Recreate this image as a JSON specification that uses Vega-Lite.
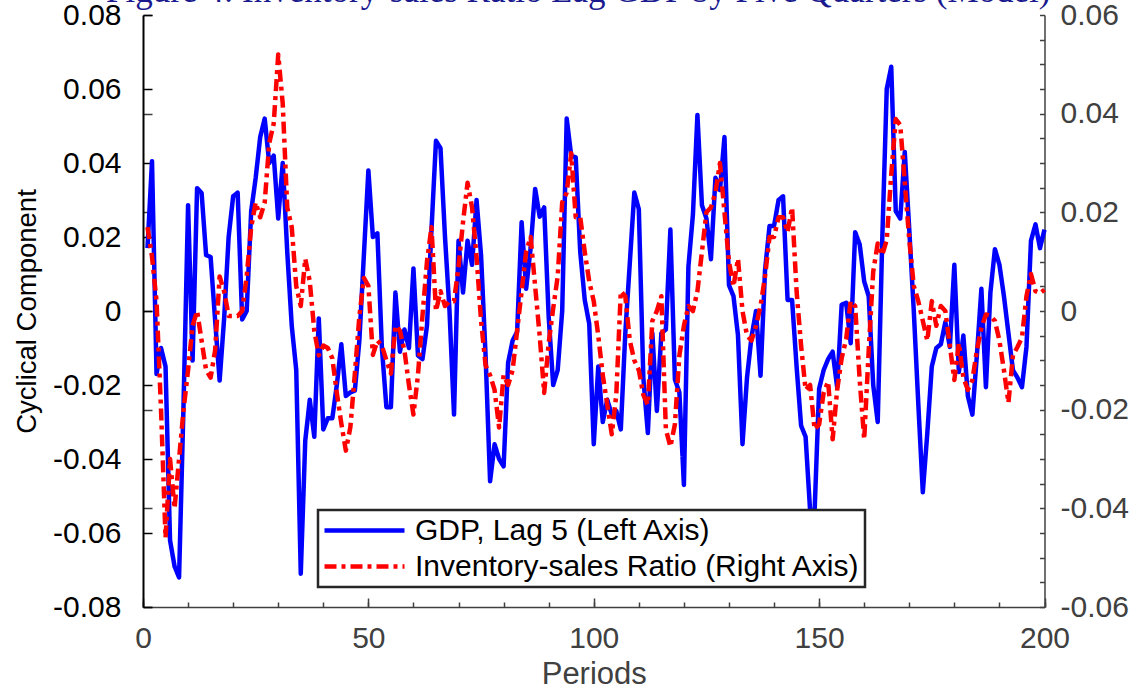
{
"$schema": "https://vega.github.io/schema/vega-lite/v6.json",
"width": 901.5,
"height": 592,
"autosize": {"type": "none"},
"padding": {"left": 143, "top": 15, "right": 93.5, "bottom": 86},
"background": "white",
"config": {"font": "Liberation Sans", "view": {"stroke": null}, "axis": {"grid": false, "labelFont": "Liberation Sans", "titleFont": "Liberation Sans", "titleFontWeight": "normal", "labelOverlap": false, "labelFlush": false}},
"title": {"text": "Figure 4: Inventory-sales Ratio Lag GDP by Five Quarters (Model)", "anchor": "start", "frame": "group", "dx": -37, "offset": -37, "baseline": "alphabetic", "font": "Liberation Serif", "fontSize": 35, "fontWeight": "normal", "color": "#1a1a8e"},
"data": {"values": [
{"t":1,"gdp":0.017,"inv":0.017},{"t":2,"gdp":0.0405,"inv":0.011},{"t":3,"gdp":-0.017,"inv":0.002},{"t":4,"gdp":-0.010,"inv":-0.020},{"t":5,"gdp":-0.015,"inv":-0.046},
{"t":6,"gdp":-0.062,"inv":-0.030},{"t":7,"gdp":-0.069,"inv":-0.040},{"t":8,"gdp":-0.072,"inv":-0.030},{"t":9,"gdp":-0.025,"inv":-0.020},{"t":10,"gdp":0.0286,"inv":-0.012},
{"t":11,"gdp":-0.0134,"inv":-0.003},{"t":12,"gdp":0.0332,"inv":0.000},{"t":13,"gdp":0.0319,"inv":-0.006},{"t":14,"gdp":0.0151,"inv":-0.012},{"t":15,"gdp":0.0146,"inv":-0.0135},
{"t":16,"gdp":-0.0025,"inv":-0.008},{"t":17,"gdp":-0.0188,"inv":0.007},{"t":18,"gdp":-0.002,"inv":0.004},{"t":19,"gdp":0.020,"inv":-0.001},{"t":20,"gdp":0.031,"inv":-0.001},
{"t":21,"gdp":0.032,"inv":-0.001},{"t":22,"gdp":-0.0023,"inv":0.000},{"t":23,"gdp":0.000,"inv":0.007},{"t":24,"gdp":0.027,"inv":0.017},{"t":25,"gdp":0.036,"inv":0.022},
{"t":26,"gdp":0.047,"inv":0.019},{"t":27,"gdp":0.052,"inv":0.022},{"t":28,"gdp":0.040,"inv":0.034},{"t":29,"gdp":0.042,"inv":0.038},{"t":30,"gdp":0.025,"inv":0.052},
{"t":31,"gdp":0.040,"inv":0.042},{"t":32,"gdp":0.016,"inv":0.021},{"t":33,"gdp":-0.004,"inv":0.017},{"t":34,"gdp":-0.016,"inv":0.005},{"t":35,"gdp":-0.071,"inv":0.001},
{"t":36,"gdp":-0.035,"inv":0.0106},{"t":37,"gdp":-0.024,"inv":0.006},{"t":38,"gdp":-0.034,"inv":-0.004},{"t":39,"gdp":-0.002,"inv":-0.009},{"t":40,"gdp":-0.032,"inv":-0.007},
{"t":41,"gdp":-0.029,"inv":-0.0075},{"t":42,"gdp":-0.029,"inv":-0.0096},{"t":43,"gdp":-0.020,"inv":-0.0166},{"t":44,"gdp":-0.009,"inv":-0.0228},{"t":45,"gdp":-0.023,"inv":-0.0283},
{"t":46,"gdp":-0.022,"inv":-0.0236},{"t":47,"gdp":-0.0215,"inv":-0.0127},{"t":48,"gdp":-0.008,"inv":-0.0011},{"t":49,"gdp":0.015,"inv":0.0067},{"t":50,"gdp":0.038,"inv":0.0051},
{"t":51,"gdp":0.020,"inv":-0.0089},{"t":52,"gdp":0.021,"inv":-0.006},{"t":53,"gdp":-0.010,"inv":-0.007},{"t":54,"gdp":-0.026,"inv":-0.010},{"t":55,"gdp":-0.026,"inv":-0.0127},
{"t":56,"gdp":0.005,"inv":-0.003},{"t":57,"gdp":-0.011,"inv":-0.004},{"t":58,"gdp":-0.005,"inv":-0.008},{"t":59,"gdp":-0.010,"inv":-0.015},{"t":60,"gdp":0.0115,"inv":-0.021},
{"t":61,"gdp":-0.012,"inv":-0.013},{"t":62,"gdp":-0.013,"inv":-0.001},{"t":63,"gdp":-0.004,"inv":0.010},{"t":64,"gdp":0.022,"inv":0.017},{"t":65,"gdp":0.046,"inv":0.000},
{"t":66,"gdp":0.044,"inv":0.004},{"t":67,"gdp":0.020,"inv":0.001},{"t":68,"gdp":0.000,"inv":0.002},{"t":69,"gdp":-0.028,"inv":0.002},{"t":70,"gdp":0.019,"inv":0.009},
{"t":71,"gdp":0.005,"inv":0.018},{"t":72,"gdp":0.019,"inv":0.026},{"t":73,"gdp":0.0125,"inv":0.021},{"t":74,"gdp":0.030,"inv":0.011},{"t":75,"gdp":0.015,"inv":-0.002},
{"t":76,"gdp":-0.012,"inv":-0.011},{"t":77,"gdp":-0.046,"inv":-0.013},{"t":78,"gdp":-0.036,"inv":-0.016},{"t":79,"gdp":-0.040,"inv":-0.0236},{"t":80,"gdp":-0.042,"inv":-0.013},
{"t":81,"gdp":-0.014,"inv":-0.015},{"t":82,"gdp":-0.008,"inv":-0.012},{"t":83,"gdp":-0.0056,"inv":-0.004},{"t":84,"gdp":0.024,"inv":0.004},{"t":85,"gdp":0.006,"inv":0.012},
{"t":86,"gdp":0.017,"inv":0.015},{"t":87,"gdp":0.033,"inv":0.005},{"t":88,"gdp":0.0255,"inv":-0.005},{"t":89,"gdp":0.028,"inv":-0.0166},{"t":90,"gdp":-0.0015,"inv":-0.0065},
{"t":91,"gdp":-0.020,"inv":0.0005},{"t":92,"gdp":-0.016,"inv":0.007},{"t":93,"gdp":0.000,"inv":0.022},{"t":94,"gdp":0.052,"inv":0.024},{"t":95,"gdp":0.042,"inv":0.032},
{"t":96,"gdp":0.0415,"inv":0.019},{"t":97,"gdp":0.016,"inv":0.019},{"t":98,"gdp":0.003,"inv":0.012},{"t":99,"gdp":-0.0035,"inv":0.006},{"t":100,"gdp":-0.036,"inv":0.002},
{"t":101,"gdp":-0.015,"inv":-0.005},{"t":102,"gdp":-0.030,"inv":-0.013},{"t":103,"gdp":-0.024,"inv":-0.019},{"t":104,"gdp":-0.028,"inv":-0.025},{"t":105,"gdp":-0.027,"inv":-0.017},
{"t":106,"gdp":-0.032,"inv":0.004},{"t":107,"gdp":-0.006,"inv":0.003},{"t":108,"gdp":0.013,"inv":-0.006},{"t":109,"gdp":0.032,"inv":-0.010},{"t":110,"gdp":0.0275,"inv":-0.012},
{"t":111,"gdp":-0.018,"inv":-0.017},{"t":112,"gdp":-0.033,"inv":-0.019},{"t":113,"gdp":-0.006,"inv":-0.002},{"t":114,"gdp":-0.027,"inv":0.000},{"t":115,"gdp":-0.006,"inv":0.003},
{"t":116,"gdp":-0.005,"inv":-0.024},{"t":117,"gdp":0.022,"inv":-0.0275},{"t":118,"gdp":-0.0185,"inv":-0.023},{"t":119,"gdp":-0.022,"inv":-0.009},{"t":120,"gdp":-0.047,"inv":-0.003},
{"t":121,"gdp":0.012,"inv":0.001},{"t":122,"gdp":0.026,"inv":0.000},{"t":123,"gdp":0.053,"inv":0.004},{"t":124,"gdp":0.0286,"inv":0.012},{"t":125,"gdp":0.025,"inv":0.020},
{"t":126,"gdp":0.014,"inv":0.021},{"t":127,"gdp":0.036,"inv":0.024},{"t":128,"gdp":0.0327,"inv":0.030},{"t":129,"gdp":0.047,"inv":0.020},{"t":130,"gdp":0.007,"inv":0.010},
{"t":131,"gdp":0.004,"inv":0.005},{"t":132,"gdp":-0.0066,"inv":0.0106},{"t":133,"gdp":-0.036,"inv":0.000},{"t":134,"gdp":-0.018,"inv":-0.005},{"t":135,"gdp":-0.007,"inv":-0.006},
{"t":136,"gdp":0.000,"inv":-0.003},{"t":137,"gdp":-0.0175,"inv":0.001},{"t":138,"gdp":0.011,"inv":0.007},{"t":139,"gdp":0.023,"inv":0.015},{"t":140,"gdp":0.023,"inv":0.015},
{"t":141,"gdp":0.030,"inv":0.019},{"t":142,"gdp":0.031,"inv":0.019},{"t":143,"gdp":0.003,"inv":0.016},{"t":144,"gdp":0.003,"inv":0.021},{"t":145,"gdp":-0.015,"inv":0.004},
{"t":146,"gdp":-0.031,"inv":-0.007},{"t":147,"gdp":-0.034,"inv":-0.016},{"t":148,"gdp":-0.054,"inv":-0.015},{"t":149,"gdp":-0.054,"inv":-0.024},{"t":150,"gdp":-0.021,"inv":-0.023},
{"t":151,"gdp":-0.016,"inv":-0.0166},{"t":152,"gdp":-0.013,"inv":-0.0143},{"t":153,"gdp":-0.011,"inv":-0.026},{"t":154,"gdp":-0.0206,"inv":-0.016},{"t":155,"gdp":0.0017,"inv":-0.0096},
{"t":156,"gdp":0.0022,"inv":-0.0057},{"t":157,"gdp":-0.0087,"inv":0.002},{"t":158,"gdp":0.0213,"inv":0.001},{"t":159,"gdp":0.018,"inv":-0.014},{"t":160,"gdp":0.008,"inv":-0.026},
{"t":161,"gdp":0.004,"inv":-0.008},{"t":162,"gdp":-0.020,"inv":0.008},{"t":163,"gdp":-0.030,"inv":0.0137},{"t":164,"gdp":0.019,"inv":0.0113},{"t":165,"gdp":0.060,"inv":0.0144},
{"t":166,"gdp":0.066,"inv":0.0277},{"t":167,"gdp":0.027,"inv":0.0389},{"t":168,"gdp":0.025,"inv":0.0377},{"t":169,"gdp":0.043,"inv":0.0261},{"t":170,"gdp":0.022,"inv":0.0144},
{"t":171,"gdp":0.000,"inv":0.0051},{"t":172,"gdp":-0.025,"inv":0.002},{"t":173,"gdp":-0.049,"inv":-0.002},{"t":174,"gdp":-0.033,"inv":-0.006},{"t":175,"gdp":-0.015,"inv":0.002},
{"t":176,"gdp":-0.010,"inv":-0.003},{"t":177,"gdp":-0.009,"inv":0.001},{"t":178,"gdp":-0.003,"inv":0.000},{"t":179,"gdp":-0.0097,"inv":-0.007},{"t":180,"gdp":0.0125,"inv":-0.014},
{"t":181,"gdp":-0.0165,"inv":-0.0065},{"t":182,"gdp":-0.0066,"inv":-0.0135},{"t":183,"gdp":-0.023,"inv":-0.016},{"t":184,"gdp":-0.028,"inv":-0.014},{"t":185,"gdp":-0.012,"inv":-0.008},
{"t":186,"gdp":0.006,"inv":-0.0034},{"t":187,"gdp":-0.0206,"inv":-0.0007},{"t":188,"gdp":0.005,"inv":-0.001},{"t":189,"gdp":0.0167,"inv":-0.002},{"t":190,"gdp":0.0125,"inv":-0.006},
{"t":191,"gdp":0.004,"inv":-0.012},{"t":192,"gdp":-0.006,"inv":-0.0186},{"t":193,"gdp":-0.016,"inv":-0.009},{"t":194,"gdp":-0.018,"inv":-0.0073},{"t":195,"gdp":-0.0206,"inv":-0.0054},
{"t":196,"gdp":-0.0097,"inv":0.003},{"t":197,"gdp":0.019,"inv":0.0075},{"t":198,"gdp":0.0234,"inv":0.004},{"t":199,"gdp":0.017,"inv":0.0036},{"t":200,"gdp":0.022,"inv":0.0043}
]},
"transform": [{"fold": ["gdp", "inv"], "as": ["series", "value"]}],
"encoding": {
  "x": {"field": "t", "type": "quantitative", "scale": {"domain": [0, 200], "nice": false, "zero": false},
    "axis": {"orient": "bottom", "values": [0,10,20,30,40,50,60,70,80,90,100,110,120,130,140,150,160,170,180,190,200],
      "labelExpr": "datum.value % 50 === 0 ? datum.label : ''",
      "tickSize": -5, "tickColor": "#404040", "tickWidth": 1.5, "domainColor": "#404040", "domainWidth": 1.5,
      "grid": true, "gridDash": [0, 583, 9, 2000], "gridColor": "#404040", "gridWidth": 1.5,
      "gridOpacity": {"condition": {"test": "datum.value % 50 === 0", "value": 1}, "value": 0},
      "labelColor": "#404040", "labelFontSize": 30, "labelPadding": 21, "labelFlush": false,
      "title": "Periods", "titleFontSize": 31, "titleColor": "#404040", "titlePadding": 6}},
  "color": {"field": "series", "type": "nominal", "scale": {"domain": ["gdp", "inv"], "range": ["#0000ff", "#ff0000"]},
    "legend": {"title": null, "orient": "none", "legendX": 175, "legendY": 495, "direction": "vertical", "symbolType": "stroke", "symbolSize": 6400, "symbolStrokeWidth": 4.5, "clipHeight": 33, "labelFontSize": 30, "labelFont": "Liberation Sans", "labelColor": "#000000", "labelOffset": 8, "labelLimit": 1000, "padding": 4, "rowPadding": 3, "strokeColor": "#262626", "fillColor": "#ffffff",
      "labelExpr": "datum.value === 'gdp' ? 'GDP, Lag 5 (Left Axis)' : 'Inventory-sales Ratio (Right Axis)'",
      "encode": {"legend": {"update": {"strokeWidth": {"value": 2.5}}}}}},
  "strokeDash": {"field": "series", "type": "nominal", "scale": {"domain": ["gdp", "inv"], "range": [[1, 0], [12, 5, 4, 5]]},
    "legend": {"title": null, "orient": "none", "legendX": 175, "legendY": 495, "direction": "vertical", "symbolType": "stroke", "symbolSize": 6400, "symbolStrokeWidth": 4.5, "clipHeight": 33, "labelFontSize": 30, "labelFont": "Liberation Sans", "labelColor": "#000000", "labelOffset": 8, "labelLimit": 1000, "padding": 4, "rowPadding": 3, "strokeColor": "#262626", "fillColor": "#ffffff",
      "labelExpr": "datum.value === 'gdp' ? 'GDP, Lag 5 (Left Axis)' : 'Inventory-sales Ratio (Right Axis)'"}}
},
"layer": [
  {"transform": [{"filter": "datum.series === 'gdp'"}],
   "mark": {"type": "line", "strokeWidth": 4.5, "strokeJoin": "round"},
   "encoding": {"y": {"field": "value", "type": "quantitative", "scale": {"domain": [-0.08, 0.08], "nice": false, "zero": false},
     "axis": {"orient": "left", "values": [-0.08,-0.06,-0.04,-0.02,0,0.02,0.04,0.06,0.08],
       "labelExpr": "abs(datum.value) < 1e-9 ? '0' : replace(format(datum.value, '.2f'), '\u2212', '-')",
       "tickSize": -9, "tickWidth": 1.5, "tickColor": "#000000", "domainColor": "#000000", "domainWidth": 2,
       "labelColor": "#000000", "labelFontSize": 30, "labelPadding": 31,
       "title": "Cyclical Component", "titleFontSize": 27.5, "titleColor": "#000000", "titlePadding": 11}}}},
  {"transform": [{"filter": "datum.series === 'inv'"}],
   "mark": {"type": "line", "strokeWidth": 4.5, "strokeJoin": "round"},
   "encoding": {"y": {"field": "value", "type": "quantitative", "scale": {"domain": [-0.06, 0.06], "nice": false, "zero": false},
     "axis": {"orient": "right", "values": [-0.06,-0.055,-0.05,-0.045,-0.04,-0.035,-0.03,-0.025,-0.02,-0.015,-0.01,-0.005,0,0.005,0.01,0.015,0.02,0.025,0.03,0.035,0.04,0.045,0.05,0.055,0.06],
       "labelExpr": "abs(datum.value*50 - round(datum.value*50)) < 1e-6 ? (abs(datum.value) < 1e-9 ? '0' : replace(format(datum.value, '.2f'), '\u2212', '-')) : ''",
       "tickSize": -5, "tickWidth": 1.5, "tickColor": "#404040", "domainColor": "#404040", "domainWidth": 1.5,
       "grid": true, "gridDash": [0, 892.5, 9, 2000], "gridColor": "#404040", "gridWidth": 1.5,
       "gridOpacity": {"condition": {"test": "abs(datum.value*50 - round(datum.value*50)) < 1e-6", "value": 1}, "value": 0},
       "labelColor": "#404040", "labelFontSize": 30, "labelPadding": 20.5, "title": null}}}}
],
"resolve": {"scale": {"y": "independent"}}
}
